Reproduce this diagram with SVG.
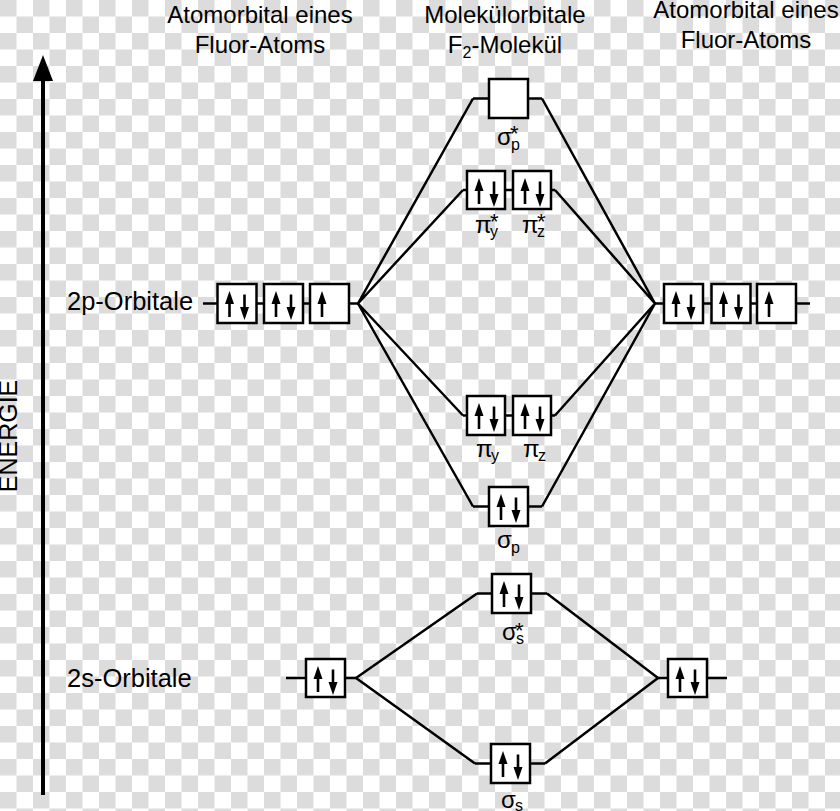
<svg xmlns="http://www.w3.org/2000/svg" width="840" height="811" viewBox="0 0 840 811">
<style>
text{font-family:"Liberation Sans",Arial,sans-serif;fill:#000}
.h{font-size:24px;text-anchor:middle}
.lab{font-size:24px}
.row{font-size:25.5px}
.sub{font-size:16px}
.st{font-size:22px}
.box{fill:#fff;stroke:#000;stroke-width:2.5}
.cn{stroke:#000;stroke-width:2.5;fill:none;stroke-linejoin:round}
.ar{stroke:#000;stroke-width:2.6}
</style>
<defs>
<pattern id="chk" patternUnits="userSpaceOnUse" width="33" height="33">
<rect width="33" height="33" fill="#fff"/>
<rect width="16.5" height="16.5" fill="#dcdcdc"/>
<rect x="16.5" y="16.5" width="16.5" height="16.5" fill="#dcdcdc"/>
</pattern>
<g id="up"><line class="ar" x1="12" y1="33" x2="12" y2="18"/><polygon points="12,7 7.5,20 16.5,20"/></g>
<g id="dn"><line class="ar" x1="27" y1="10.5" x2="27" y2="25"/><polygon points="27,36 22.5,23 31.5,23"/></g>
</defs>
<rect width="840" height="811" fill="url(#chk)"/>

<g id="axis">
<line x1="43" y1="78" x2="43" y2="795" stroke="#000" stroke-width="4"/>
<polygon points="43,55 33,81 53,81"/>
<text transform="translate(17,436) rotate(-90)" text-anchor="middle" font-size="25">ENERGIE</text>
</g>

<g id="headers">
<text class="h" x="260" y="23">Atomorbital eines</text>
<text class="h" x="260" y="53">Fluor-Atoms</text>
<text class="h" x="505" y="23">Molekülorbitale</text>
<text class="h" x="505" y="53">F<tspan font-size="16" dy="5">2</tspan><tspan dy="-5">-Molekül</tspan></text>
<text class="h" x="746" y="18">Atomorbital eines</text>
<text class="h" x="746" y="48">Fluor-Atoms</text>
</g>

<g id="connectors">
<line class="cn" x1="203" y1="303.5" x2="358" y2="303.5"/>
<line class="cn" x1="655" y1="303.5" x2="810" y2="303.5"/>
<line class="cn" x1="473" y1="98.5" x2="542" y2="98.5"/>
<line class="cn" x1="463" y1="190" x2="555" y2="190"/>
<line class="cn" x1="463" y1="415.5" x2="555" y2="415.5"/>
<line class="cn" x1="473" y1="506.5" x2="542" y2="506.5"/>
<line class="cn" x1="286" y1="678" x2="356" y2="678"/>
<line class="cn" x1="658" y1="678" x2="727" y2="678"/>
<line class="cn" x1="477" y1="593.5" x2="547" y2="593.5"/>
<line class="cn" x1="475" y1="763.5" x2="545" y2="763.5"/>
<polyline class="cn" points="473,98.5 358,303.5 463,190"/>
<polyline class="cn" points="463,415.5 358,303.5 473,506.5"/>
<polyline class="cn" points="542,98.5 655,303.5 555,190"/>
<polyline class="cn" points="555,415.5 655,303.5 542,506.5"/>
<polyline class="cn" points="477,593.5 356,678 475,763.5"/>
<polyline class="cn" points="547,593.5 658,678 545,763.5"/>
</g>

<g id="label-2p"><text class="row" x="67" y="310">2p-Orbitale</text></g>
<g id="label-2s"><text class="row" x="67" y="687">2s-Orbitale</text></g>

<g id="left-2p">
<g transform="translate(217.5,284)"><rect class="box" width="39" height="39"/><use href="#up"/><use href="#dn"/></g>
<g transform="translate(264,284)"><rect class="box" width="39" height="39"/><use href="#up"/><use href="#dn"/></g>
<g transform="translate(310,284)"><rect class="box" width="39" height="39"/><use href="#up"/></g>
</g>

<g id="right-2p">
<g transform="translate(664,284)"><rect class="box" width="39" height="39"/><use href="#up"/><use href="#dn"/></g>
<g transform="translate(711.5,284)"><rect class="box" width="39" height="39"/><use href="#up"/><use href="#dn"/></g>
<g transform="translate(757,284)"><rect class="box" width="39" height="39"/><use href="#up"/></g>
</g>

<g id="sigma-p-star">
<rect class="box" x="489" y="79" width="39" height="39"/>
<text class="lab" x="497" y="145">σ</text><text class="sub" x="511" y="150">p</text><text class="st" x="510" y="141">*</text>
</g>

<g id="pi-star">
<g transform="translate(467,171)"><rect class="box" width="38" height="38"/><use href="#up"/><use href="#dn"/></g>
<g transform="translate(513,171)"><rect class="box" width="38" height="38"/><use href="#up"/><use href="#dn"/></g>
<text class="lab" x="475" y="233">π</text><text class="sub" x="490" y="237">y</text><text class="st" x="490" y="229">*</text>
<text class="lab" x="522" y="233">π</text><text class="sub" x="537" y="237">z</text><text class="st" x="537" y="229">*</text>
</g>

<g id="pi">
<g transform="translate(467,396)"><rect class="box" width="38" height="39"/><use href="#up"/><use href="#dn"/></g>
<g transform="translate(513,396)"><rect class="box" width="38" height="39"/><use href="#up"/><use href="#dn"/></g>
<text class="lab" x="476" y="457">π</text><text class="sub" x="491" y="461">y</text>
<text class="lab" x="523" y="457">π</text><text class="sub" x="538" y="461">z</text>
</g>

<g id="sigma-p">
<g transform="translate(489,487)"><rect class="box" width="39" height="39"/><use href="#up"/><use href="#dn"/></g>
<text class="lab" x="497" y="548">σ</text><text class="sub" x="511" y="553">p</text>
</g>

<g id="left-2s">
<g transform="translate(306,659)"><rect class="box" width="39" height="38"/><use href="#up"/><use href="#dn"/></g>
</g>

<g id="right-2s">
<g transform="translate(668,659)"><rect class="box" width="39" height="38"/><use href="#up"/><use href="#dn"/></g>
</g>

<g id="sigma-s-star">
<g transform="translate(492,574)"><rect class="box" width="39" height="39"/><use href="#up"/><use href="#dn"/></g>
<text class="lab" x="502" y="640">σ</text><text class="sub" x="516" y="644">s</text><text class="st" x="515" y="638">*</text>
</g>

<g id="sigma-s">
<g transform="translate(491,744)"><rect class="box" width="39" height="39"/><use href="#up"/><use href="#dn"/></g>
<text class="lab" x="501" y="808">σ</text><text class="sub" x="515" y="811">s</text>
</g>
</svg>
